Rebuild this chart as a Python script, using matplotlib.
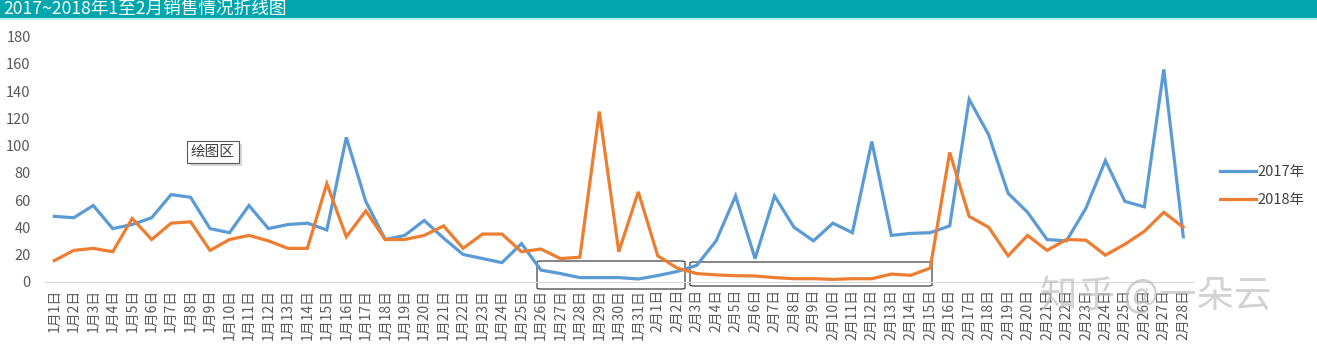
import matplotlib
matplotlib.use("Agg")
import matplotlib.pyplot as plt
from matplotlib.patches import FancyBboxPatch, Rectangle

plt.rcParams['font.family'] = ['Noto Sans CJK SC', 'DejaVu Sans']

# 日期标签
days = ["1月%d日" % d for d in range(1, 32)] + ["2月%d日" % d for d in range(1, 29)]

# 2017年销售
sales_2017 = [48, 47, 56, 39, 42, 47, 64, 62, 39, 36, 56, 39, 42, 43, 38, 106, 59, 31, 34, 45,
              32, 20, 17, 14, 28, 8.5, 6, 3, 3, 3, 2,
              4.5, 7.5, 12, 30, 63, 17, 63, 40, 30, 43, 36, 103, 34, 35.5, 36, 41, 134, 108,
              65, 51, 31, 30, 54, 89, 59, 55, 156, 33]

# 2018年销售
sales_2018 = [15.5, 23, 24.5, 22, 46.5, 31, 43, 44, 23, 31, 34, 30, 24.5, 24.5, 72, 33, 52, 31, 31, 34,
              41, 24.5, 35, 35, 22, 24, 17, 18, 125, 22, 66,
              19, 10, 6, 5, 4.4, 4.2, 3, 2.2, 2.2, 1.7, 2.2, 2.2, 5.6, 4.7, 10, 95, 48, 40,
              19, 34, 23, 31, 30.5, 19.5, 27.5, 37, 51, 40]

fig = plt.figure(figsize=(13.17, 3.52), dpi=100)
fig.patch.set_facecolor('white')

# 标题栏
fig.patches.append(Rectangle((0, 1 - 18 / 352), 1, 18 / 352, transform=fig.transFigure,
                             facecolor='#00A6AC', edgecolor='none'))
fig.patches.append(Rectangle((0, 1 - 20 / 352), 1, 2 / 352, transform=fig.transFigure,
                             facecolor='#BDEEF0', edgecolor='none'))
fig.text(3 / 1317, 1 - 9 / 352, "2017~2018年1至2月销售情况折线图", color='white',
         fontsize=12.7, va='center', ha='left')

ax = fig.add_axes([44.6 / 1317, 70.3 / 352, (1193 - 44.6) / 1317, 245 / 352])
x = list(range(len(days)))
ax.plot(x, sales_2017, color='#5B9BD5', linewidth=2.3, label='2017年', solid_joinstyle='miter')
ax.plot(x, sales_2018, color='#ED7D31', linewidth=2.3, label='2018年', solid_joinstyle='miter')

ax.set_xlim(-0.5, len(days) - 0.5)
ax.set_ylim(0, 180)
ax.set_yticks(range(0, 181, 20))
ax.set_xticks(x)
ax.set_xticklabels(days, rotation=90, fontsize=10, color='#595959')
ax.tick_params(axis='y', labelsize=10.5, labelcolor='#595959', length=0, pad=10)
ax.tick_params(axis='x', length=0, pad=5)
for s in ['top', 'right', 'left']:
    ax.spines[s].set_visible(False)
ax.spines['bottom'].set_color('#D9D9D9')
ax.set_facecolor('none')

ax.legend(loc='center left', bbox_to_anchor=(1.012, 0.39), frameon=False, fontsize=10.5,
          handlelength=2.5, handletextpad=0.1, labelspacing=0.95, labelcolor='#404040')

# 绘图区标签
lbl = fig.text(191 / 1317, 1 - 152 / 352, "绘图区", fontsize=10.5, color='#404040',
               ha='left', va='center', zorder=5,
               bbox=dict(boxstyle='square,pad=0.25', facecolor='white', edgecolor='#595959', linewidth=0.8))
fig.canvas.draw()
bb = lbl.get_bbox_patch().get_window_extent()
# 阴影
fig.patches.append(Rectangle(((bb.x0 + 3) / 1317, (bb.y0 - 3) / 352), bb.width / 1317, bb.height / 352,
                             transform=fig.transFigure, facecolor='#D6D6D6', edgecolor='none', zorder=4))

# 框
ax.add_patch(FancyBboxPatch((537 / 1317, 63 / 352), 148 / 1317, 28 / 352,
                            boxstyle='round,pad=0,rounding_size=0.003', transform=fig.transFigure,
                            fill=False, edgecolor='#404040', linewidth=0.9, clip_on=False))
ax.add_patch(FancyBboxPatch((690 / 1317, 66 / 352), 242 / 1317, 24 / 352,
                            boxstyle='round,pad=0,rounding_size=0.003', transform=fig.transFigure,
                            fill=False, edgecolor='#404040', linewidth=0.9, clip_on=False))

# 水印
fig.text(1040 / 1317, 1 - 297 / 352, "知乎 @一朵云", fontsize=27, color='#BFBFBF', alpha=0.7,
         ha='left', va='center')

fig.savefig('out.png', dpi=100)
